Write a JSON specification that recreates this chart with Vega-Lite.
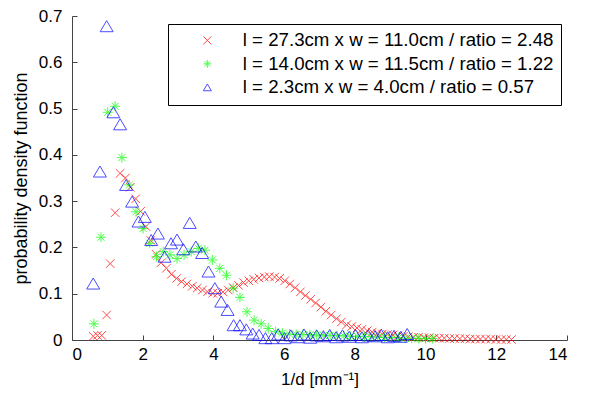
{
  "$schema": "https://vega.github.io/schema/vega-lite/v6.json",
  "width": 495,
  "height": 324,
  "autosize": "none",
  "padding": {"left": 72, "top": 16, "right": 25, "bottom": 54},
  "background": "white",
  "config": {
    "view": {"stroke": null},
    "font": "Liberation Sans",
    "axis": {"grid": false, "domainColor": "#444", "tickColor": "#444", "labelColor": "black", "titleColor": "black", "labelFont": "Liberation Sans", "titleFont": "Liberation Sans", "titleFontWeight": "normal", "labelFontSize": 17, "titleFontSize": 17}
  },
  "datasets": {
    "red": [
      [0.60,0.008],[0.72,0.010],[0.84,0.010],[0.98,0.054],[1.08,0.165],[1.22,0.275],[1.36,0.360],[1.51,0.350],[1.65,0.330],[1.80,0.305],[1.94,0.278],[2.09,0.245],[2.23,0.215],[2.38,0.185],[2.52,0.167],[2.67,0.155],[2.81,0.142],[2.96,0.133],[3.10,0.126],[3.25,0.121],[3.40,0.116],[3.54,0.112],[3.69,0.108],[3.83,0.104],[3.98,0.101],[4.12,0.101],[4.27,0.104],[4.42,0.108],[4.56,0.113],[4.71,0.118],[4.85,0.124],[5.00,0.128],[5.14,0.131],[5.29,0.134],[5.44,0.136],[5.58,0.137],[5.73,0.136],[5.87,0.133],[6.02,0.128],[6.16,0.121],[6.31,0.113],[6.46,0.104],[6.60,0.096],[6.75,0.088],[6.89,0.080],[7.04,0.071],[7.18,0.062],[7.33,0.054],[7.48,0.046],[7.62,0.039],[7.77,0.033],[7.91,0.029],[8.06,0.026],[8.20,0.023],[8.35,0.020],[8.49,0.017],[8.64,0.015],[8.78,0.013],[8.93,0.012],[9.08,0.011],[9.22,0.009],[9.37,0.008],[9.51,0.007],[9.66,0.006],[9.80,0.006],[9.95,0.005],[10.10,0.005],[10.24,0.004],[10.39,0.004],[10.53,0.004],[10.68,0.003],[10.82,0.003],[10.97,0.003],[11.12,0.003],[11.26,0.002],[11.41,0.002],[11.55,0.002],[11.70,0.002],[11.84,0.002],[11.99,0.001],[12.14,0.001],[12.28,0.001],[12.43,0.001]
    ],
    "green": [
      [0.62,0.035],[0.82,0.222],[1.01,0.492],[1.22,0.505],[1.41,0.394],[1.62,0.335],[1.81,0.277],[2.01,0.241],[2.20,0.209],[2.39,0.180],[2.58,0.191],[2.77,0.184],[2.97,0.176],[3.17,0.184],[3.37,0.191],[3.57,0.198],[3.76,0.194],[3.97,0.173],[4.18,0.155],[4.37,0.140],[4.56,0.112],[4.75,0.092],[4.95,0.061],[5.15,0.043],[5.35,0.035],[5.55,0.025],[5.76,0.018],[5.95,0.015],[6.15,0.013],[6.34,0.012],[6.53,0.012],[6.73,0.011],[6.92,0.011],[7.11,0.010],[7.30,0.010],[7.50,0.009],[7.69,0.009],[7.88,0.008],[8.07,0.008],[8.27,0.007],[8.46,0.007],[8.65,0.006],[8.84,0.006],[9.04,0.005],[9.23,0.005],[9.42,0.004],[9.61,0.004],[9.81,0.003],[10.00,0.003],[10.19,0.003]
    ],
    "blue": [
      [0.60,0.122],[0.79,0.364],[0.98,0.678],[1.17,0.492],[1.36,0.466],[1.53,0.335],[1.70,0.299],[1.88,0.256],[2.06,0.266],[2.24,0.216],[2.43,0.230],[2.62,0.180],[2.80,0.209],[2.97,0.217],[3.15,0.196],[3.33,0.253],[3.50,0.202],[3.68,0.188],[3.86,0.148],[4.04,0.112],[4.22,0.083],[4.40,0.065],[4.57,0.032],[4.75,0.032],[4.93,0.023],[5.11,0.014],[5.29,0.011],[5.47,0.004],[5.65,0.004],[5.83,0.012],[6.01,0.004],[6.19,0.010],[6.38,0.006],[6.56,0.012],[6.74,0.005],[6.92,0.010],[7.11,0.008],[7.29,0.011],[7.47,0.006],[7.65,0.010],[7.84,0.007],[8.02,0.011],[8.20,0.006],[8.38,0.010],[8.57,0.008],[8.75,0.011],[8.93,0.006],[9.11,0.009],[9.30,0.007],[9.48,0.013]
    ]
  },
  "layer": [
    {
      "data": {"name": "red"},
      "transform": [
        {"calculate": "datum[0]", "as": "x"},
        {"calculate": "datum[1]", "as": "y"},
        {"calculate": "'l = 27.3cm x w = 11.0cm / ratio = 2.48'", "as": "series"}
      ],
      "mark": {"type": "point", "filled": false, "strokeWidth": 1, "size": 72},
      "encoding": {
        "x": {"field": "x", "type": "quantitative"},
        "y": {"field": "y", "type": "quantitative"},
        "color": {"field": "series", "type": "nominal"},
        "shape": {"field": "series", "type": "nominal"}
      }
    },
    {
      "data": {"name": "green"},
      "transform": [
        {"calculate": "datum[0]", "as": "x"},
        {"calculate": "datum[1]", "as": "y"},
        {"calculate": "'l = 14.0cm x w = 11.5cm / ratio = 1.22'", "as": "series"}
      ],
      "mark": {"type": "point", "filled": false, "strokeWidth": 1, "size": 100},
      "encoding": {
        "x": {"field": "x", "type": "quantitative"},
        "y": {"field": "y", "type": "quantitative"},
        "color": {"field": "series", "type": "nominal"},
        "shape": {"field": "series", "type": "nominal"}
      }
    },
    {
      "data": {"name": "blue"},
      "transform": [
        {"calculate": "datum[0]", "as": "x"},
        {"calculate": "datum[1]", "as": "y"},
        {"calculate": "'l = 2.3cm x w = 4.0cm / ratio = 0.57'", "as": "series"}
      ],
      "mark": {"type": "point", "filled": false, "strokeWidth": 1, "size": 169},
      "encoding": {
        "x": {
          "field": "x", "type": "quantitative",
          "scale": {"domain": [0, 14], "nice": false, "zero": false},
          "axis": {"title": "1/d [mm⁻¹]", "values": [0,2,4,6,8,10,12,14], "tickSize": -5, "labelPadding": 11, "titlePadding": 9}
        },
        "y": {
          "field": "y", "type": "quantitative",
          "scale": {"domain": [0, 0.7], "nice": false},
          "axis": {"title": "probability density function", "titleFontSize": 18, "values": [0,0.1,0.2,0.3,0.4,0.5,0.6,0.7], "format": "~g", "tickSize": -5, "labelPadding": 15, "titlePadding": 8}
        },
        "color": {
          "field": "series", "type": "nominal",
          "scale": {
            "domain": ["l = 27.3cm x w = 11.0cm / ratio = 2.48", "l = 14.0cm x w = 11.5cm / ratio = 1.22", "l = 2.3cm x w = 4.0cm / ratio = 0.57"],
            "range": ["#ff0000", "#00ff00", "#0000ff"]
          },
          "legend": {
            "title": null, "orient": "none", "legendX": 96, "legendY": 8,
            "strokeColor": "black", "fillColor": "white", "padding": 7,
            "labelFontSize": 18.7, "labelFont": "Liberation Sans", "labelLimit": 400,
            "symbolSize": 64, "symbolStrokeWidth": 1, "symbolOffset": 23, "labelOffset": 26, "rowPadding": 3.5
          }
        },
        "shape": {
          "field": "series", "type": "nominal",
          "scale": {
            "domain": ["l = 27.3cm x w = 11.0cm / ratio = 2.48", "l = 14.0cm x w = 11.5cm / ratio = 1.22", "l = 2.3cm x w = 4.0cm / ratio = 0.57"],
            "range": ["M-1,-1L1,1M-1,1L1,-1", "M-1,0L1,0M0,-1L0,1M-0.7,-0.7L0.7,0.7M-0.7,0.7L0.7,-0.7", "M-1,0.85L0,-0.85L1,0.85Z"]
          }
        }
      }
    }
  ]
}
